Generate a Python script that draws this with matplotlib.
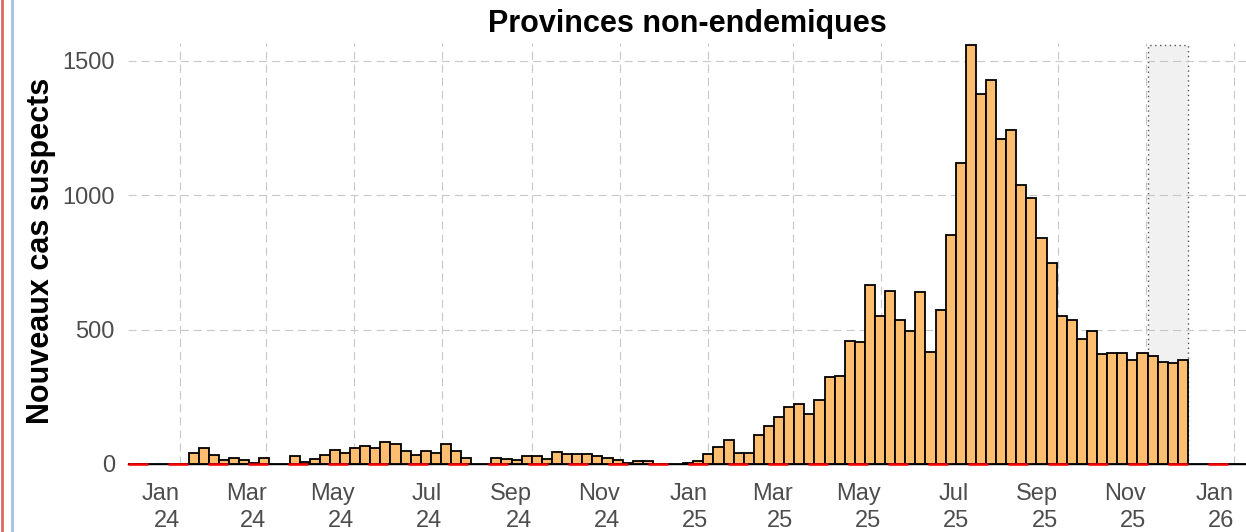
import matplotlib
matplotlib.use("Agg")
import matplotlib.pyplot as plt
import matplotlib.dates as mdates
from matplotlib.lines import Line2D
from matplotlib.patches import Rectangle
import pandas as pd

plt.rcParams['font.family'] = ['Liberation Sans', 'DejaVu Sans']
plt.rcParams['lines.scale_dashes'] = False

# ---- data ----
first_week = "2023-11-26"
cases = [0, 0, 0, 0, 0, 0,
         41, 60, 35, 15, 22, 15, 2, 21, 0, 0,
         29, 9, 20, 33, 53, 41, 61, 67, 61, 81,
         74, 47, 33, 47, 41, 74, 47, 22, 0, 0,
         24, 17, 15, 30, 30, 17, 45, 37, 37, 37,
         30, 24, 15, 3, 11, 11, 0, 0, 0, 2,
         11, 37, 62, 88, 42, 42, 108, 141, 174, 212,
         225, 186, 238, 323, 329, 458, 452, 665, 551, 645,
         535, 496, 639, 418, 574, 852, 1119, 1560, 1376, 1429,
         1210, 1243, 1036, 989, 840, 749, 551, 535, 464, 496,
         408, 414, 414, 387, 414, 400, 381, 375, 387,
         0, 0, 0, 0, 0, 0]
deaths = [0] * len(cases)
shade_start = "2025-11-02"
shade_end = "2025-11-30"
title = "Provinces non-endemiques"
ylabel = "Nouveaux cas suspects"
yticks = [0, 500, 1000, 1500]
x_start = "2023-11-26"
x_end = "2026-01-09 07:00"

weeks = pd.date_range(first_week, periods=len(cases), freq="7D")
xw = mdates.date2num(weeks.to_pydatetime())

W, H = 1246, 532
fig = plt.figure(figsize=(W / 100, H / 100), dpi=100)
ax = fig.add_axes([128 / W, (H - 464) / H, (W - 128) / W, (464 - 43) / H])

ax.set_xlim(mdates.date2num(pd.Timestamp(x_start)), mdates.date2num(pd.Timestamp(x_end)))
ax.set_ylim(0, 1566)

# shaded rectangle (incomplete weeks)
s0 = mdates.date2num(pd.Timestamp(shade_start))
s1 = mdates.date2num(pd.Timestamp(shade_end))
ax.add_patch(Rectangle((s0, 0), s1 - s0, max(cases), facecolor="#f1f1f1",
                       edgecolor="#555555", linestyle=(0, (1.0, 2.5)), linewidth=1.0, zorder=0.3))

ax.bar(xw, cases, width=7, align="edge", color="#FDBF6F", edgecolor="black",
       linewidth=1.3, zorder=2)

xe = list(xw) + [xw[-1] + 7]
ye = deaths + [deaths[-1]]
ax.plot(xe, ye, color="#FF0000", linewidth=1.8, drawstyle="steps-post",
        dashes=(14.4, 14.4), dash_capstyle="butt", zorder=4, clip_on=False)

ax.set_axisbelow(True)
ax.grid(True, color="#c8c8c8", linewidth=0.8, linestyle=(0, (5.8, 3.6)))
ax.set_yticks(yticks)
ax.set_yticklabels([str(v) for v in yticks])

ax.xaxis.set_major_locator(mdates.MonthLocator(bymonth=[1, 3, 5, 7, 9, 11]))
ax.xaxis.set_major_formatter(mdates.DateFormatter("%b\n%y"))

for sp in ["top", "right", "left"]:
    ax.spines[sp].set_visible(False)
ax.spines["bottom"].set_color("black")
ax.spines["bottom"].set_linewidth(1.0)

ax.tick_params(axis="y", length=0, pad=9.4, labelsize=17, labelcolor="#4d4d4d")
ax.tick_params(axis="x", length=0, pad=14, labelsize=17, labelcolor="#4d4d4d")
for lab in ax.get_xticklabels():
    lab.set_horizontalalignment("right")
    lab.set_multialignment("right")
    lab.set_linespacing(1.25)

fig.text(687 / W, 1 - 32 / H, title, ha="center", va="baseline",
         fontsize=22, fontweight="bold", color="black")
fig.text(41 / W, 1 - 251 / H, ylabel, ha="center", va="center", rotation=90,
         fontsize=22, fontweight="bold", color="black")

# screenshot border lines
fig.add_artist(Line2D([1.5 / W, 1.5 / W], [0, 1], color="#e06666", linewidth=2.0))
fig.add_artist(Line2D([12 / W, 12 / W], [0, 1], color="#a4c2e4", linewidth=2.0))

fig.savefig("out.png", dpi=100)
